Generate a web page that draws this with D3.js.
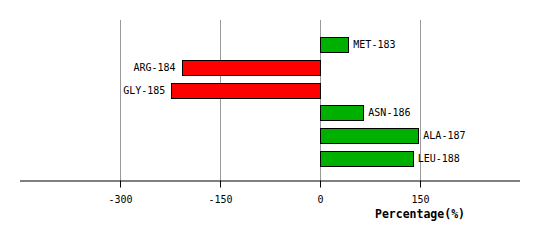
<!DOCTYPE html>
<html><head><meta charset="utf-8">
<script src="https://cdn.jsdelivr.net/npm/d3@7"></script>
<style>body{margin:0;background:#fff}svg{display:block}</style>
</head><body>
<svg id="c" width="540" height="240"></svg>
<script>
const categories = ["MET-183","ARG-184","GLY-185","ASN-186","ALA-187","LEU-188"];
const values = [42.5, -207.5, -223, 65, 147.5, 139];
const tickValues = [-300, -150, 0, 150];
const axisTitle = "Percentage(%)";

const svg = d3.select("#c");
const font = "'DejaVu Sans Mono', monospace";
const x = d3.scaleLinear().domain([-450, 300]).range([20, 520]);
const y = d3.scaleBand().domain(categories).range([33, 170]).paddingInner(0.35).paddingOuter(0.175);
const axisY = 180.5;

// grid
svg.append("g").selectAll("line").data(tickValues).join("line")
  .attr("x1", d => Math.round(x(d)) + 0.5).attr("x2", d => Math.round(x(d)) + 0.5)
  .attr("y1", 20).attr("y2", axisY)
  .attr("stroke", "#999").attr("stroke-width", 1);

// bars
svg.append("g").selectAll("rect").data(values).join("rect")
  .attr("x", d => Math.round(x(Math.min(0, d))) + 0.5)
  .attr("y", (d, i) => Math.round(y(categories[i])) + 0.5)
  .attr("width", d => Math.round(Math.abs(x(d) - x(0))))
  .attr("height", Math.round(y.bandwidth()))
  .attr("fill", d => d < 0 ? "#ff0000" : "#00b000")
  .attr("stroke", "#000").attr("stroke-width", 1);

// labels
svg.append("g").selectAll("text").data(values).join("text")
  .attr("x", d => d < 0 ? x(d) - 6 : x(d) + 5)
  .attr("y", (d, i) => y(categories[i]) + y.bandwidth() / 2)
  .attr("dy", "0.35em")
  .attr("text-anchor", d => d < 0 ? "end" : "start")
  .attr("font-family", font).attr("font-size", 10).attr("fill", "#000")
  .text((d, i) => categories[i]);

// axis
const axis = d3.axisBottom(x).tickValues(tickValues).tickSize(7).tickPadding(8).tickFormat(d => String(d));
const g = svg.append("g").attr("transform", `translate(0,${axisY})`).call(axis);
g.select(".domain").attr("d", `M20,0.5H520`).attr("stroke", "#000");
g.selectAll(".tick line").attr("stroke", "#000");
g.selectAll(".tick text").attr("font-family", font).attr("font-size", 10).attr("fill", "#000");

svg.append("text").attr("x", x(150)).attr("y", 218).attr("text-anchor", "middle")
  .attr("font-family", font).attr("font-size", 11.5).attr("font-weight", "bold").text(axisTitle);
</script>
</body></html>
